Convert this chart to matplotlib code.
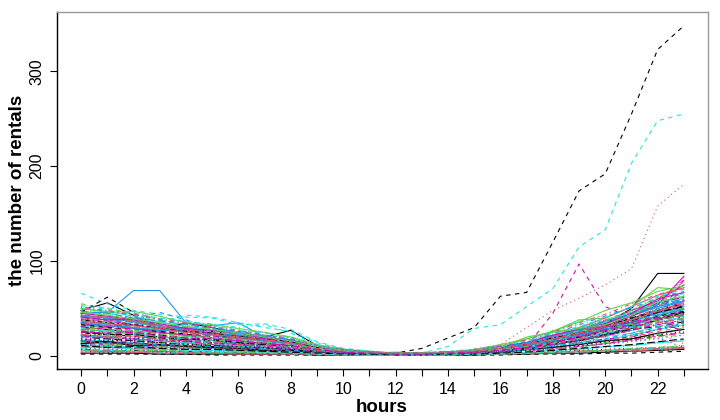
import matplotlib
matplotlib.use('Agg')
import matplotlib.pyplot as plt

hours = list(range(24))
x_tick_labels = ['0', '', '2', '', '4', '', '6', '', '8', '', '10', '', '12', '',
                 '14', '', '16', '', '18', '', '20', '', '22', '']
y_ticks = [0, 100, 200, 300]

# rentals per hour, one list per column of the original matrix
s00 = [48, 56, 43, 28, 35, 30, 24, 20, 27, 11, 6, 4, 3, 3, 4, 5, 8, 12, 18, 26, 34, 50, 87, 87]
s01 = [30, 27, 24, 20, 18, 15, 12, 10, 8, 5, 3, 2, 2, 2, 3, 4, 6, 9, 14, 20, 28, 38, 52, 68]
s02 = [25, 22, 20, 17, 15, 13, 11, 9, 7, 5, 4, 3, 2, 2, 3, 4, 6, 10, 16, 24, 30, 45, 60, 62]
s03 = [18, 16, 14, 12, 11, 10, 8, 7, 6, 4, 3, 2, 2, 2, 2, 3, 5, 7, 10, 15, 22, 30, 40, 48]
s04 = [35, 33, 30, 25, 22, 20, 17, 14, 12, 8, 5, 4, 3, 3, 4, 5, 7, 10, 15, 22, 30, 40, 48, 55]
s05 = [22, 20, 18, 16, 14, 12, 10, 9, 7, 5, 4, 3, 3, 3, 3, 4, 6, 9, 14, 20, 27, 36, 46, 58]
s06 = [12, 10, 8, 6, 5, 4, 3, 3, 3, 3, 4, 3, 3, 8, 19, 30, 63, 67, 120, 174, 192, 255, 323, 348]
s07 = [20, 18, 16, 14, 12, 10, 9, 8, 6, 4, 3, 2, 2, 3, 4, 6, 12, 30, 48, 61, 75, 92, 158, 181]
s08 = [40, 38, 33, 28, 24, 22, 18, 15, 12, 8, 5, 3, 3, 3, 4, 6, 9, 14, 20, 28, 36, 45, 55, 60]
s09 = [15, 14, 12, 11, 10, 9, 8, 6, 5, 4, 3, 2, 2, 2, 3, 3, 5, 8, 12, 17, 23, 30, 38, 42]
s10 = [28, 26, 23, 20, 18, 16, 14, 12, 9, 6, 4, 3, 2, 2, 3, 4, 6, 9, 13, 18, 25, 33, 42, 46]
s11 = [26, 24, 21, 18, 16, 14, 12, 10, 8, 5, 4, 3, 3, 3, 3, 4, 6, 10, 45, 97, 52, 40, 50, 56]
s12 = [8, 7, 6, 5, 5, 4, 4, 3, 3, 2, 2, 1, 1, 1, 2, 2, 3, 4, 5, 6, 7, 8, 9, 10]
s13 = [33, 31, 28, 24, 21, 19, 16, 13, 10, 7, 5, 3, 3, 3, 4, 5, 8, 12, 18, 26, 34, 44, 58, 66]
s14 = [20, 19, 17, 15, 13, 12, 10, 8, 7, 5, 3, 2, 2, 2, 3, 4, 6, 9, 14, 20, 26, 34, 42, 50]
s15 = [45, 46, 69, 69, 35, 32, 35, 20, 15, 8, 5, 3, 3, 3, 4, 5, 7, 10, 15, 21, 28, 36, 45, 52]
s16 = [66, 55, 48, 44, 41, 40, 33, 34, 28, 15, 8, 5, 3, 3, 10, 29, 33, 52, 71, 115, 133, 203, 248, 255]
s17 = [38, 35, 31, 27, 24, 21, 18, 15, 12, 8, 5, 3, 3, 3, 4, 5, 8, 12, 18, 25, 32, 40, 48, 54]
s18 = [14, 13, 12, 10, 9, 8, 7, 6, 5, 4, 3, 2, 2, 2, 2, 3, 4, 6, 9, 13, 17, 22, 28, 32]
s19 = [10, 9, 8, 7, 7, 6, 5, 5, 4, 3, 2, 2, 1, 1, 2, 2, 3, 5, 7, 10, 13, 17, 21, 24]
s20 = [42, 40, 36, 30, 26, 23, 19, 16, 13, 9, 6, 4, 3, 3, 4, 6, 9, 18, 26, 38, 40, 52, 72, 70]
s21 = [36, 34, 40, 46, 38, 30, 26, 22, 18, 10, 6, 4, 3, 3, 4, 5, 7, 11, 16, 23, 30, 38, 46, 50]
s22 = [24, 22, 20, 17, 15, 14, 12, 10, 8, 6, 4, 3, 2, 2, 3, 4, 6, 9, 14, 39, 36, 32, 40, 46]
s23 = [30, 28, 25, 22, 19, 17, 14, 12, 9, 6, 4, 3, 3, 3, 3, 4, 7, 10, 15, 22, 30, 38, 47, 52]
s24 = [20, 18, 16, 14, 12, 11, 9, 8, 7, 5, 3, 2, 2, 2, 3, 3, 5, 8, 12, 17, 23, 30, 38, 44]
s25 = [6, 6, 5, 5, 4, 4, 3, 3, 3, 2, 2, 1, 1, 1, 1, 2, 2, 3, 4, 5, 6, 7, 8, 9]
s26 = [55, 50, 45, 38, 33, 29, 24, 20, 16, 10, 6, 4, 3, 3, 4, 6, 9, 14, 22, 30, 38, 48, 62, 68]
s27 = [12, 11, 10, 9, 8, 7, 6, 5, 5, 4, 3, 2, 2, 2, 2, 3, 4, 6, 8, 11, 15, 19, 24, 28]
s28 = [44, 42, 38, 33, 28, 25, 21, 18, 14, 9, 6, 4, 3, 3, 4, 6, 9, 13, 20, 28, 36, 46, 54, 60]
s29 = [16, 15, 13, 12, 11, 10, 8, 7, 6, 4, 3, 2, 2, 2, 2, 3, 5, 7, 11, 16, 22, 29, 36, 40]
s30 = [3, 3, 3, 2, 2, 2, 2, 2, 2, 1, 1, 1, 1, 1, 1, 1, 2, 2, 3, 3, 4, 5, 6, 7]
s31 = [27, 25, 22, 19, 17, 15, 13, 11, 9, 6, 4, 3, 2, 2, 3, 4, 6, 9, 13, 19, 26, 34, 44, 50]
s32 = [34, 32, 29, 25, 22, 19, 16, 13, 11, 7, 5, 3, 3, 3, 3, 5, 7, 11, 17, 24, 31, 40, 50, 58]
s33 = [22, 21, 19, 17, 15, 13, 11, 9, 8, 5, 4, 3, 2, 2, 3, 4, 6, 9, 13, 19, 25, 33, 41, 45]
s34 = [38, 36, 32, 28, 24, 22, 19, 16, 12, 8, 5, 3, 3, 3, 4, 5, 8, 12, 18, 25, 33, 42, 52, 57]
s35 = [45, 42, 38, 32, 28, 25, 21, 17, 14, 9, 6, 4, 3, 3, 4, 6, 9, 14, 20, 28, 36, 48, 58, 75]
s36 = [46, 62, 46, 30, 29, 26, 22, 18, 15, 9, 6, 4, 3, 3, 4, 5, 8, 12, 17, 24, 31, 40, 48, 55]
s37 = [18, 17, 15, 13, 12, 11, 9, 8, 6, 4, 3, 2, 2, 2, 3, 4, 5, 8, 12, 17, 23, 30, 38, 44]
s38 = [10, 9, 9, 8, 7, 6, 6, 5, 4, 3, 2, 2, 1, 1, 2, 2, 3, 5, 7, 10, 13, 16, 20, 22]
s39 = [32, 30, 27, 24, 21, 18, 15, 12, 10, 7, 5, 3, 3, 3, 3, 4, 7, 10, 15, 22, 29, 37, 46, 52]
s40 = [50, 47, 42, 36, 31, 27, 23, 19, 15, 9, 6, 4, 3, 3, 4, 6, 9, 14, 21, 29, 37, 46, 56, 62]
s41 = [13, 12, 11, 10, 9, 8, 7, 6, 5, 4, 3, 2, 2, 2, 2, 3, 4, 6, 9, 13, 17, 22, 28, 33]
s42 = [5, 4, 4, 4, 3, 3, 3, 3, 2, 2, 1, 1, 1, 1, 1, 2, 2, 3, 3, 4, 5, 5, 6, 7]
s43 = [40, 38, 34, 29, 25, 22, 19, 15, 12, 8, 5, 3, 3, 3, 4, 5, 8, 12, 18, 26, 34, 44, 60, 80]
s44 = [28, 26, 23, 20, 18, 16, 14, 12, 9, 6, 4, 3, 2, 2, 3, 4, 6, 10, 25, 28, 30, 36, 44, 48]
s45 = [42, 40, 36, 31, 27, 24, 20, 17, 14, 9, 6, 4, 3, 3, 4, 5, 8, 12, 18, 25, 33, 42, 52, 58]
s46 = [37, 35, 34, 36, 43, 41, 35, 30, 26, 14, 7, 4, 3, 3, 4, 6, 9, 13, 19, 27, 35, 44, 54, 60]
s47 = [19, 18, 16, 14, 13, 11, 10, 8, 7, 5, 3, 2, 2, 2, 3, 4, 6, 8, 12, 18, 24, 32, 40, 46]
s48 = [24, 23, 21, 18, 16, 14, 12, 10, 8, 6, 4, 3, 2, 2, 3, 4, 6, 8, 12, 17, 23, 30, 38, 45]
s49 = [36, 34, 30, 26, 23, 20, 17, 14, 11, 7, 5, 3, 3, 3, 4, 5, 8, 12, 18, 25, 33, 42, 55, 63]
s50 = [14, 13, 12, 11, 10, 9, 8, 7, 6, 4, 3, 2, 2, 2, 2, 3, 5, 8, 27, 26, 28, 34, 40, 44]
s51 = [26, 25, 22, 19, 17, 15, 13, 11, 9, 6, 4, 3, 2, 2, 3, 4, 6, 9, 14, 20, 27, 35, 45, 50]
s52 = [48, 45, 41, 35, 30, 27, 23, 19, 15, 9, 6, 4, 3, 3, 4, 6, 9, 13, 20, 28, 36, 46, 58, 64]
s53 = [9, 9, 8, 7, 7, 6, 5, 5, 4, 3, 2, 2, 1, 1, 2, 2, 3, 5, 7, 10, 13, 17, 21, 25]
s54 = [30, 28, 25, 22, 19, 17, 14, 12, 10, 7, 4, 3, 3, 3, 3, 4, 7, 10, 15, 21, 28, 37, 46, 52]
s55 = [43, 41, 37, 32, 28, 24, 20, 17, 13, 8, 5, 4, 3, 3, 4, 6, 9, 14, 21, 30, 40, 52, 64, 72]
s56 = [32, 30, 27, 24, 21, 19, 16, 14, 11, 7, 5, 3, 3, 3, 3, 5, 7, 11, 17, 24, 31, 39, 48, 56]
s57 = [7, 7, 6, 6, 5, 5, 4, 4, 3, 3, 2, 1, 1, 1, 2, 2, 3, 4, 5, 7, 9, 11, 14, 16]
s58 = [21, 20, 18, 16, 14, 13, 11, 9, 8, 5, 4, 3, 2, 2, 3, 4, 5, 8, 12, 17, 23, 30, 38, 43]
s59 = [39, 37, 33, 29, 25, 22, 18, 15, 12, 8, 5, 3, 3, 3, 4, 5, 8, 12, 18, 26, 34, 44, 56, 62]
s60 = [16, 15, 14, 12, 11, 10, 9, 8, 6, 5, 3, 2, 2, 2, 3, 3, 5, 8, 12, 17, 22, 29, 38, 46]
s61 = [11, 10, 9, 8, 8, 7, 6, 5, 5, 4, 3, 2, 2, 2, 2, 3, 4, 6, 9, 12, 16, 20, 26, 30]
s62 = [47, 44, 40, 34, 29, 26, 22, 18, 14, 9, 6, 4, 3, 3, 4, 6, 9, 14, 21, 30, 38, 48, 58, 60]
s63 = [29, 27, 24, 21, 19, 17, 14, 12, 9, 6, 4, 3, 2, 2, 3, 4, 6, 10, 15, 21, 28, 36, 46, 55]
s64 = [17, 16, 14, 13, 12, 10, 9, 8, 6, 4, 3, 2, 2, 2, 3, 3, 5, 8, 12, 17, 22, 29, 36, 40]
s65 = [34, 32, 29, 25, 22, 19, 16, 13, 11, 7, 5, 3, 3, 3, 3, 5, 7, 11, 17, 24, 32, 42, 54, 84]
s66 = [2, 2, 2, 2, 2, 1, 1, 1, 1, 1, 1, 1, 1, 1, 1, 1, 1, 2, 2, 2, 3, 3, 4, 5]
s67 = [23, 22, 20, 17, 15, 14, 12, 10, 8, 5, 4, 3, 2, 2, 3, 4, 6, 9, 13, 19, 26, 34, 43, 48]
s68 = [37, 35, 31, 27, 24, 21, 18, 15, 12, 8, 5, 3, 3, 3, 4, 5, 8, 12, 18, 26, 36, 48, 62, 66]
s69 = [41, 39, 35, 30, 26, 23, 19, 16, 13, 8, 5, 4, 3, 3, 4, 5, 8, 12, 18, 26, 34, 44, 54, 60]
s70 = [12, 11, 10, 9, 9, 8, 7, 6, 5, 4, 3, 2, 2, 2, 2, 3, 4, 6, 9, 13, 17, 22, 28, 33]
s71 = [25, 24, 21, 18, 16, 14, 12, 10, 8, 6, 4, 3, 2, 2, 3, 4, 6, 9, 13, 19, 26, 34, 43, 80]
s72 = [20, 24, 18, 21, 15, 17, 12, 14, 9, 6, 5, 3, 2, 3, 2, 4, 5, 9, 11, 18, 21, 30, 33, 42]
s73 = [44, 40, 41, 33, 30, 31, 24, 22, 16, 11, 6, 5, 3, 3, 4, 7, 11, 13, 22, 27, 38, 41, 60, 78]
s74 = [9, 12, 8, 10, 7, 9, 6, 7, 5, 4, 2, 3, 1, 2, 3, 2, 4, 6, 9, 8, 14, 19, 22, 30]
s75 = [31, 35, 29, 27, 30, 24, 22, 19, 16, 10, 7, 3, 4, 3, 4, 6, 10, 12, 19, 22, 31, 34, 50, 58]
s76 = [53, 49, 44, 40, 37, 32, 27, 24, 20, 12, 6, 5, 3, 4, 5, 7, 10, 16, 24, 31, 40, 52, 63, 70]
s77 = [17, 14, 16, 12, 13, 10, 11, 8, 7, 5, 3, 2, 2, 2, 3, 5, 6, 10, 12, 20, 24, 35, 38, 50]
s78 = [7, 5, 6, 4, 4, 3, 3, 2, 2, 2, 1, 1, 1, 1, 2, 2, 3, 3, 4, 5, 5, 7, 8, 9]
s79 = [28, 30, 26, 24, 22, 23, 19, 16, 15, 9, 5, 4, 3, 2, 3, 4, 7, 11, 14, 21, 27, 29, 38, 43]
s80 = [50, 46, 47, 42, 35, 33, 29, 25, 20, 12, 7, 5, 3, 3, 4, 7, 12, 18, 26, 36, 48, 56, 68, 74]
s81 = [21, 19, 23, 17, 18, 14, 15, 11, 10, 6, 4, 3, 2, 2, 3, 4, 5, 9, 13, 16, 24, 27, 33, 38]
s82 = [39, 37, 35, 30, 33, 28, 25, 21, 19, 10, 6, 4, 3, 3, 4, 6, 8, 12, 16, 24, 29, 37, 44, 50]
s83 = [15, 13, 14, 11, 10, 8, 9, 6, 5, 4, 3, 2, 2, 1, 2, 3, 4, 7, 10, 14, 18, 20, 28, 35]
s84 = [26, 22, 23, 19, 17, 18, 14, 12, 11, 6, 4, 3, 2, 3, 3, 4, 6, 8, 13, 16, 22, 28, 31, 36]
s85 = [4, 5, 4, 3, 3, 3, 2, 2, 2, 2, 1, 1, 1, 1, 1, 2, 2, 3, 3, 4, 6, 5, 7, 8]
s86 = [33, 36, 31, 29, 25, 26, 21, 19, 17, 9, 6, 4, 3, 3, 3, 5, 8, 11, 17, 19, 27, 34, 42, 51]
s87 = [10, 8, 9, 7, 8, 6, 6, 5, 4, 3, 2, 2, 1, 1, 2, 3, 3, 6, 7, 11, 12, 15, 18, 22]
s88 = [46, 44, 45, 39, 36, 34, 30, 33, 24, 12, 8, 5, 3, 3, 4, 6, 10, 15, 22, 30, 35, 43, 55, 66]
s89 = [35, 31, 33, 29, 26, 24, 20, 18, 15, 9, 5, 4, 3, 3, 4, 5, 9, 11, 19, 23, 30, 36, 40, 47]
s90 = [13, 15, 11, 12, 10, 9, 8, 6, 6, 4, 3, 2, 2, 2, 2, 3, 4, 7, 9, 12, 16, 18, 24, 28]
s91 = [39, 36, 37, 30, 27, 28, 22, 20, 16, 10, 6, 4, 3, 2, 3, 5, 8, 13, 18, 24, 33, 39, 48, 56]
s92 = [24, 21, 22, 18, 19, 15, 13, 14, 10, 7, 4, 3, 2, 2, 3, 4, 6, 8, 14, 15, 22, 26, 30, 36]
s93 = [52, 47, 43, 38, 34, 30, 26, 22, 18, 11, 6, 4, 3, 3, 4, 6, 10, 15, 23, 33, 42, 51, 60, 66]
s94 = [19, 22, 17, 16, 14, 15, 11, 10, 8, 5, 4, 3, 2, 2, 3, 3, 5, 7, 11, 14, 20, 24, 31, 38]
s95 = [41, 38, 39, 34, 29, 27, 24, 19, 17, 10, 6, 4, 3, 3, 4, 6, 10, 14, 22, 28, 34, 45, 60, 67]
s96 = [33, 30, 28, 26, 23, 20, 21, 16, 13, 8, 5, 3, 3, 3, 3, 5, 7, 10, 15, 20, 26, 32, 42, 47]
s97 = [15, 13, 12, 12, 10, 9, 8, 7, 6, 4, 3, 2, 2, 2, 2, 3, 4, 6, 8, 12, 15, 21, 24, 13]
s98 = [27, 24, 25, 21, 20, 17, 15, 13, 10, 7, 5, 3, 2, 2, 3, 4, 7, 10, 16, 21, 25, 33, 36, 40]
s99 = [47, 45, 40, 37, 33, 29, 25, 21, 17, 10, 7, 4, 3, 3, 4, 6, 9, 14, 20, 27, 37, 44, 52, 59]
s100 = [8, 10, 7, 7, 6, 6, 5, 4, 4, 3, 2, 1, 1, 1, 2, 2, 3, 4, 6, 7, 10, 11, 14, 16]
s101 = [31, 28, 29, 24, 22, 21, 17, 16, 12, 8, 5, 3, 3, 2, 3, 4, 7, 10, 15, 21, 28, 30, 39, 44]
s102 = [18, 16, 17, 14, 12, 11, 10, 9, 7, 5, 3, 2, 2, 2, 3, 3, 5, 6, 10, 11, 15, 18, 22, 26]
s103 = [51, 48, 44, 39, 35, 31, 27, 22, 19, 11, 7, 4, 3, 3, 4, 7, 11, 17, 25, 35, 44, 55, 65, 71]
s104 = [6, 7, 5, 6, 5, 4, 4, 3, 3, 2, 2, 1, 1, 1, 1, 2, 2, 3, 4, 5, 6, 8, 9, 11]
s105 = [35, 32, 30, 27, 26, 22, 20, 16, 13, 8, 5, 3, 3, 3, 3, 5, 7, 11, 16, 22, 29, 31, 43, 49]
s106 = [29, 27, 26, 23, 21, 19, 17, 15, 12, 7, 4, 3, 2, 2, 3, 4, 6, 9, 13, 18, 24, 30, 34, 42]
s107 = [12, 11, 12, 9, 9, 8, 7, 6, 5, 4, 3, 2, 2, 2, 2, 3, 4, 5, 8, 10, 13, 16, 19, 9]
s108 = [38, 35, 33, 29, 26, 24, 20, 17, 15, 9, 6, 4, 3, 3, 4, 5, 8, 12, 19, 24, 31, 40, 46, 53]
s109 = [23, 20, 21, 18, 16, 15, 12, 11, 9, 6, 4, 3, 2, 2, 3, 4, 6, 8, 12, 18, 21, 27, 35, 39]
s110 = [46, 43, 39, 35, 31, 28, 24, 20, 16, 10, 6, 4, 3, 3, 4, 6, 9, 20, 25, 29, 33, 43, 57, 63]
s111 = [16, 14, 13, 12, 11, 10, 9, 7, 6, 5, 3, 2, 2, 2, 2, 3, 5, 7, 10, 14, 18, 24, 30, 34]
s112 = [54, 51, 46, 40, 36, 32, 28, 24, 19, 11, 7, 4, 3, 3, 4, 7, 11, 16, 25, 34, 43, 50, 59, 67]
s113 = [21, 19, 18, 16, 15, 13, 12, 10, 8, 5, 4, 3, 2, 2, 3, 4, 5, 8, 12, 16, 21, 27, 33, 37]
s114 = [11, 9, 10, 8, 7, 7, 6, 5, 4, 3, 2, 2, 1, 1, 2, 2, 3, 4, 6, 8, 10, 12, 15, 18]
s115 = [37, 34, 32, 29, 25, 23, 20, 17, 14, 8, 5, 4, 3, 3, 4, 5, 8, 12, 18, 24, 31, 38, 47, 54]
s116 = [30, 27, 28, 23, 21, 20, 17, 15, 12, 8, 5, 3, 3, 3, 3, 4, 7, 10, 14, 27, 26, 34, 38, 45]
s117 = [43, 40, 38, 33, 30, 27, 23, 20, 16, 10, 6, 4, 3, 3, 4, 6, 9, 14, 21, 28, 35, 45, 53, 61]
s118 = [5, 6, 5, 4, 4, 4, 3, 3, 2, 2, 1, 1, 1, 1, 1, 2, 2, 3, 4, 4, 5, 7, 8, 9]
s119 = [26, 24, 25, 21, 19, 18, 16, 13, 11, 7, 4, 3, 2, 2, 3, 4, 6, 9, 14, 20, 27, 33, 41, 24]

series = [s00, s01, s02, s03, s04, s05, s06, s07, s08, s09, s10, s11,
          s12, s13, s14, s15, s16, s17, s18, s19, s20, s21, s22, s23,
          s24, s25, s26, s27, s28, s29, s30, s31, s32, s33, s34, s35,
          s36, s37, s38, s39, s40, s41, s42, s43, s44, s45, s46, s47,
          s48, s49, s50, s51, s52, s53, s54, s55, s56, s57, s58, s59,
          s60, s61, s62, s63, s64, s65, s66, s67, s68, s69, s70, s71,
          s72, s73, s74, s75, s76, s77, s78, s79, s80, s81, s82, s83,
          s84, s85, s86, s87, s88, s89, s90, s91, s92, s93, s94, s95,
          s96, s97, s98, s99, s100, s101, s102, s103, s104, s105, s106, s107,
          s108, s109, s110, s111, s112, s113, s114, s115, s116, s117, s118, s119]

# matplot defaults: col = 1:6, lty = 1:5
colours = ['black', '#DF536B', '#61D04F', '#2297E6', '#28E2E5', '#CD0BBC']
dashes = ['-', (0, (4, 4)), (0, (1, 3)), (0, (1, 3, 4, 3)), (0, (7, 3))]

plt.rcParams['font.family'] = ['Liberation Sans', 'DejaVu Sans']

fig = plt.figure(figsize=(7.2, 4.2), dpi=100)
ax = fig.add_axes([57 / 720, 1 - 369 / 420, 651 / 720, 357 / 420])

for i, s in enumerate(series):
    ax.plot(hours, s, color=colours[i % 6], linestyle=dashes[i % 5], linewidth=0.8)

ax.set_xlim(-0.92, 23.92)
ax.set_ylim(-13.7, 362.5)
ax.set_xticks(hours)
ax.set_xticklabels(x_tick_labels)
ax.set_yticks(y_ticks)
ax.set_yticklabels([str(v) for v in y_ticks], rotation=90, va='center')
ax.tick_params(direction='out', length=5, width=0.8, labelsize=11.5, pad=4)
for side in ['top', 'right']:
    ax.spines[side].set_color('#999999')
for sp in ax.spines.values():
    sp.set_linewidth(1.0)

fig.text(382 / 720, 1 - 408 / 420, 'hours', ha='center', va='center',
         fontsize=13.5, fontweight='bold')
fig.text(18 / 720, 1 - 190 / 420, 'the number of rentals', ha='center', va='center',
         rotation=90, fontsize=13.5, fontweight='bold')

fig.savefig('out.png', dpi=100)
